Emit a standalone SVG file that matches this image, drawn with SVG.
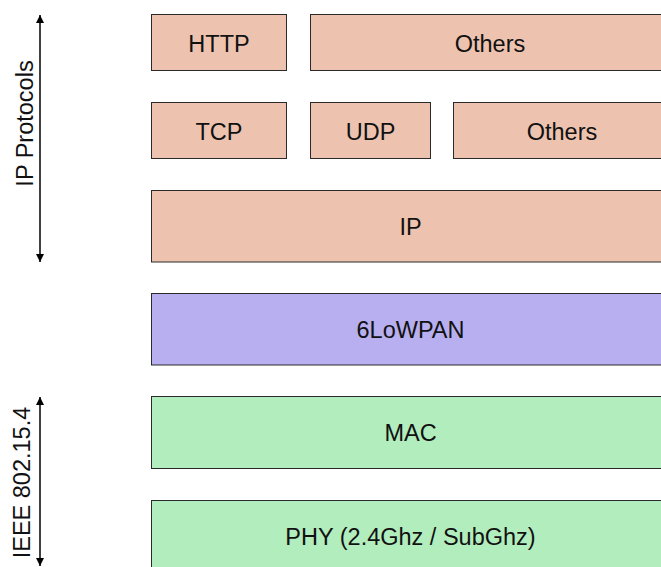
<svg xmlns="http://www.w3.org/2000/svg" width="661" height="567" viewBox="0 0 661 567">
  <style>
    .box { stroke: #2a2a2a; stroke-width: 1; }
    .ip { fill: #EDC3B0; }
    .lowpan { fill: #B8AFF0; }
    .ieee { fill: #B1EDBD; }
    .lbl { font-family: "Liberation Sans", Arial, sans-serif; font-size: 23.5px; fill: #111; text-anchor: middle; }
    .conn { stroke: #000; stroke-width: 1.5; fill: none; }
  </style>
  <defs>
    <marker id="head" viewBox="0 0 10 10" refX="10" refY="5" markerWidth="8" markerHeight="8" markerUnits="userSpaceOnUse" orient="auto-start-reverse">
      <path d="M0,0 L10,5 L0,10 z" fill="#000"/>
    </marker>
  </defs>

  <rect width="661" height="567" fill="#fff"/>

  <!-- application layer -->
  <g id="http">
    <rect class="box ip" x="151.5" y="14.5" width="135" height="56"/>
    <text class="lbl" x="219" y="51.5">HTTP</text>
  </g>
  <g id="app-others">
    <rect class="box ip" x="310.5" y="14.5" width="360" height="56"/>
    <text class="lbl" x="490" y="51.5">Others</text>
  </g>

  <!-- transport layer -->
  <g id="tcp">
    <rect class="box ip" x="151.5" y="102.5" width="135" height="56"/>
    <text class="lbl" x="219" y="139.5">TCP</text>
  </g>
  <g id="udp">
    <rect class="box ip" x="310.5" y="102.5" width="120" height="56"/>
    <text class="lbl" x="370.5" y="139.5">UDP</text>
  </g>
  <g id="transport-others">
    <rect class="box ip" x="453.5" y="102.5" width="217" height="56"/>
    <text class="lbl" x="562" y="139.5">Others</text>
  </g>

  <!-- network layer -->
  <g id="ip">
    <rect class="box ip" x="151.5" y="190.5" width="519" height="71.5"/>
    <text class="lbl" x="410.5" y="234.5">IP</text>
  </g>

  <!-- adaptation layer -->
  <g id="sixlowpan">
    <rect class="box lowpan" x="151.5" y="293.5" width="519" height="71.5"/>
    <text class="lbl" x="410.5" y="338">6LoWPAN</text>
  </g>

  <!-- IEEE 802.15.4 layers -->
  <g id="mac">
    <rect class="box ieee" x="151.5" y="396.5" width="519" height="72"/>
    <text class="lbl" x="410.5" y="441">MAC</text>
  </g>
  <g id="phy">
    <rect class="box ieee" x="151.5" y="500.5" width="519" height="72"/>
    <text class="lbl" x="410.5" y="545">PHY (2.4Ghz / SubGhz)</text>
  </g>

  <!-- span arrows -->
  <g id="connectors">
    <line class="conn" x1="40" y1="15" x2="40" y2="262" marker-start="url(#head)" marker-end="url(#head)"/>
    <line class="conn" x1="40" y1="397" x2="40" y2="566" marker-start="url(#head)" marker-end="url(#head)"/>
  </g>

  <g id="span-labels">
    <text class="lbl" transform="translate(32.5 123.5) rotate(-90)">IP Protocols</text>
    <text class="lbl" transform="translate(29.5 482.5) rotate(-90)">IEEE 802.15.4</text>
  </g>
</svg>
